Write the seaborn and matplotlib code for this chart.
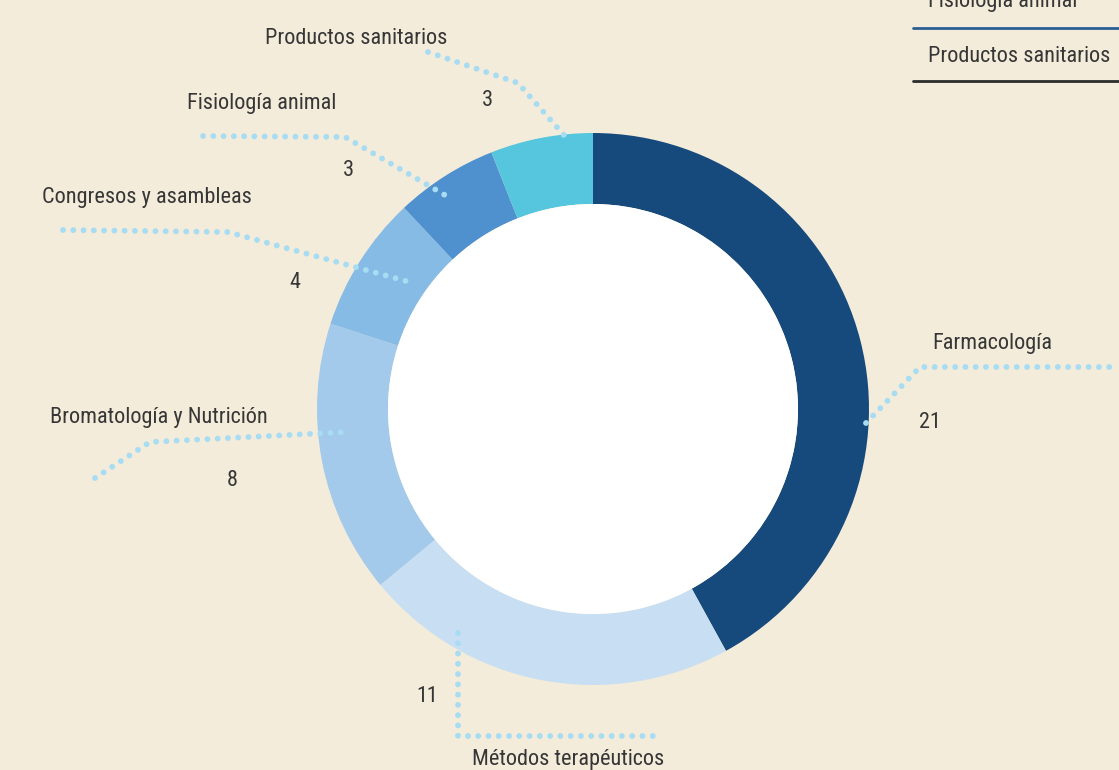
import matplotlib
matplotlib.use("Agg")
import matplotlib.pyplot as plt
import seaborn as sns
from matplotlib.patches import Circle
from matplotlib import font_manager as fm

# ---- data ----
categories = ["Farmacología", "Métodos terapéuticos", "Bromatología y Nutrición",
              "Congresos y asambleas", "Fisiología animal", "Productos sanitarios"]
values = [21, 11, 8, 4, 3, 3]
colors = ["#164a7c", "#c8dff3", "#a3c9eb", "#86bbe6", "#4f90cf", "#55c6dd"]
legend_items = ["Fisiología animal", "Productos sanitarios"]

sns.set_style("white")
plt.rcParams['font.family'] = ['DejaVu Sans']

# find a narrow / condensed regular font if one is installed
def pick_font():
    best = None
    best_rank = 99
    for f in fm.fontManager.ttflist:
        nm, path = f.name, f.fname
        st = str(f.stretch)
        if f.style != "normal":
            continue
        w = f.weight
        try:
            w = int(w)
        except Exception:
            w = {"normal": 400, "regular": 400, "book": 400}.get(str(w).lower(), 0)
        if w != 400:
            continue
        low = (nm + " " + path).lower()
        if "mono" in low or "serif" in low and "sans" not in low:
            continue
        rank = None
        if "liberation sans narrow" in low or "liberationsansnarrow" in low:
            rank = 0
        elif "roboto condensed" in low or "robotocondensed" in low:
            rank = 1
        elif ("noto sans" in low or "notosans" in low) and ("condensed" in low or st == "condensed") \
                and "semi" not in low and "extra" not in low and "cjk" not in low:
            rank = 2
        elif ("open sans" in low or "opensans" in low) and "condensed" in low and "semi" not in low:
            rank = 3
        elif "dejavu sans" in low and "condensed" in low or "dejavusanscondensed" in low:
            rank = 4
        elif st in ("condensed", "semi-condensed") or "condensed" in low or "narrow" in low:
            rank = 5
        if rank is not None and rank < best_rank:
            best, best_rank = path, rank
    return best

font_path = pick_font()

W, H = 1119, 770
BG = "#f4ecda"
FS = 16 if font_path else 13.5

def fp():
    if font_path:
        return fm.FontProperties(fname=font_path, size=FS)
    return fm.FontProperties(family="DejaVu Sans", size=FS)

fig = plt.figure(figsize=(W / 100, H / 100), dpi=100, facecolor=BG)
ax = fig.add_axes([0, 0, 1, 1])
ax.set_facecolor(BG)

def Y(y):
    return H - y

cx, cy, R, r = 593, 409, 276, 205
ax.pie(values, colors=colors, startangle=90, counterclock=False,
       center=(cx, Y(cy)), radius=R, frame=True,
       wedgeprops=dict(width=R - r, linewidth=0))
ax.add_patch(Circle((cx, Y(cy)), r, facecolor="white", edgecolor="none", zorder=3))
ax.set_xlim(0, W)
ax.set_ylim(0, H)
ax.set_aspect("equal")
ax.axis("off")

TXT = "#363636"
DOT = "#a8dcf2"

def leader(pts):
    xs = [p[0] for p in pts]
    ys = [Y(p[1]) for p in pts]
    ax.plot(xs, ys, linestyle=(0, (0.01, 1.75)), linewidth=4.2,
            dash_capstyle="round", color=DOT, zorder=4)

# (label pos, ha, value pos, leader path) in pixel coordinates
layout = {
    "Productos sanitarios": ((265, 38), "left", (487, 100), [(428, 52), (518, 83), (570, 142)]),
    "Fisiología animal": ((187, 103), "left", (348, 170), [(203, 136), (345, 137), (450, 198)]),
    "Congresos y asambleas": ((42, 198), "left", (295, 282), [(63, 230), (228, 232), (413, 283)]),
    "Bromatología y Nutrición": ((50, 417), "left", (232, 480), [(95, 478), (150, 442), (348, 432)]),
    "Métodos terapéuticos": ((472, 760), "left", (427, 697), [(458, 633), (458, 736), (655, 736)]),
    "Farmacología": ((932, 344), "left", (930, 423), [(866, 423), (920, 367), (1119, 367)]),
}

for cat, val in zip(categories, values):
    (lx, ly), ha, (vx, vy), path = layout[cat]
    leader(path)
    ax.text(lx, Y(ly), cat, ha=ha, va="center", fontproperties=fp(), color=TXT, zorder=5)
    ax.text(vx, Y(vy), str(val), ha="center", va="center", fontproperties=fp(), color=TXT, zorder=5)

# list at top right
ax.text(928, Y(2), legend_items[0], ha="left", va="center", fontproperties=fp(), color=TXT)
ax.plot([913, 1119], [Y(28), Y(28)], color="#2a5f94", linewidth=2)
ax.text(928, Y(57), legend_items[1], ha="left", va="center", fontproperties=fp(), color=TXT)
ax.plot([913, 1119], [Y(81), Y(81)], color="#2b2b2b", linewidth=2)

fig.savefig("out.png", dpi=100, facecolor=BG)
